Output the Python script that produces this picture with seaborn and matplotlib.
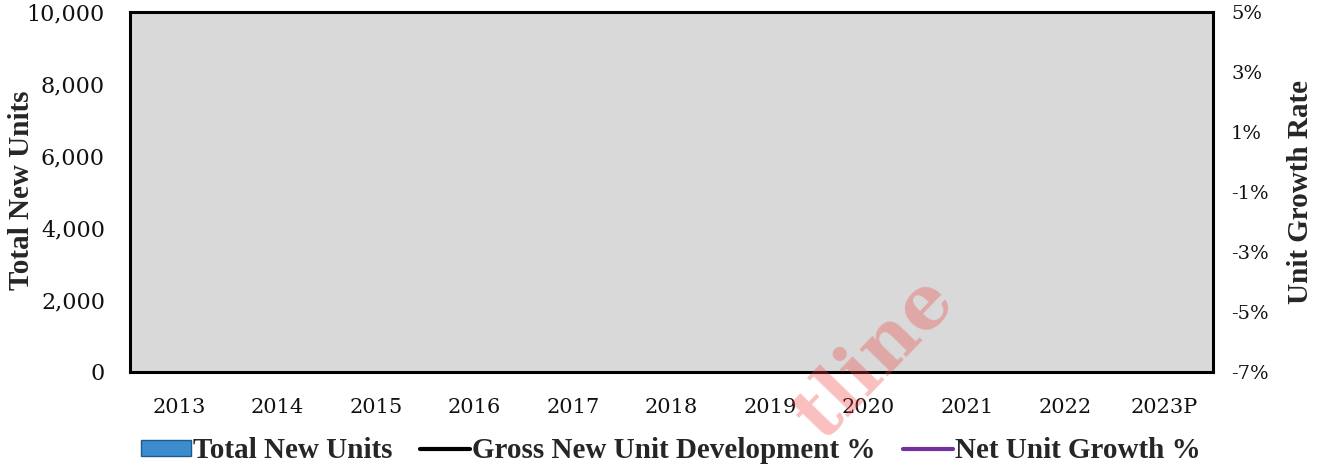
import numpy as np
import pandas as pd
import matplotlib
matplotlib.use("Agg")
import matplotlib.pyplot as plt
from matplotlib.patches import Patch
from matplotlib.lines import Line2D
from matplotlib.ticker import FuncFormatter
import seaborn as sns

# ---- data (no marks visible in the reference: values unknown) ----
years = ["2013", "2014", "2015", "2016", "2017", "2018", "2019", "2020", "2021", "2022", "2023P"]
total_new_units = [np.nan] * len(years)
gross_new_unit_dev = [np.nan] * len(years)
net_unit_growth = [np.nan] * len(years)

left_ticks = [0, 2000, 4000, 6000, 8000, 10000]
right_ticks = [-7, -5, -3, -1, 1, 3, 5]

sns.set_theme(style="white")
plt.rcParams["font.family"] = ["DejaVu Serif"]

BOLD = {"family": ["Liberation Serif", "DejaVu Serif"], "weight": "bold", "size": 21}

fig = plt.figure(figsize=(13.18, 4.68), dpi=100)
ax = fig.add_axes([130 / 1318, 1 - 372 / 468, 1083 / 1318, 360 / 468])
ax.set_facecolor("#D9D9D9")

df = pd.DataFrame({"year": years, "units": total_new_units,
                   "gross": gross_new_unit_dev, "net": net_unit_growth})
df["pos"] = np.arange(len(years))

sns.barplot(data=df, x="pos", y="units", color="#3C8DD0", ax=ax, width=0.6)
ax.set_xlim(-0.5, len(years) - 0.5)
ax.set_xticks(range(len(years)))
ax.set_xticklabels(years)
ax.set_ylim(0, 10000)
ax.set_yticks(left_ticks)
ax.yaxis.set_major_formatter(FuncFormatter(lambda v, p: f"{int(v):,}"))
ax.set_xlabel("")
ax.set_ylabel("Total New Units", fontdict=BOLD)
ax.yaxis.set_label_coords(-0.0877, 0.505)
ax.tick_params(axis="x", length=0, pad=19, labelsize=15, labelcolor="#111111")
ax.tick_params(axis="y", length=0, pad=18, labelsize=16, labelcolor="#111111")
for s in ax.spines.values():
    s.set_visible(True)
    s.set_color("black")
    s.set_linewidth(2.2)

ax2 = ax.twinx()
sns.lineplot(data=df, x="pos", y="gross", color="black", lw=2.5, ax=ax2)
sns.lineplot(data=df, x="pos", y="net", color="#7030A0", lw=2.5, ax=ax2)
ax2.set_ylim(-7, 5)
ax2.set_yticks(right_ticks)
ax2.yaxis.set_major_formatter(FuncFormatter(lambda v, p: f"{int(v)}%"))
ax2.set_ylabel("Unit Growth Rate", fontdict=BOLD)
ax2.yaxis.set_label_coords(1.068, 0.50)
ax2.tick_params(axis="y", length=0, pad=13, labelsize=14, labelcolor="#111111")
ax2.set_xlim(-0.5, len(years) - 0.5)
for s in ax2.spines.values():
    s.set_visible(False)

handles = [
    Patch(facecolor="#3C8DD0", edgecolor="#1F5A8C", label="Total New Units"),
    Line2D([0], [0], color="black", lw=3, label="Gross New Unit Development %"),
    Line2D([0], [0], color="#7030A0", lw=3, label="Net Unit Growth %"),
]
fig.legend(handles=handles, loc="center", bbox_to_anchor=(671 / 1318, 1 - 451 / 468),
           ncol=3, frameon=False, prop={"family": ["Liberation Serif"], "size": 21, "weight": "bold"},
           handlelength=1.7, handletextpad=0.08, columnspacing=0.95, handleheight=0.45)

fig.text(875 / 1318, 1 - 358 / 468, "tline", fontsize=54, fontweight="bold",
         family=["DejaVu Serif"], color="#F04040", alpha=0.33, rotation=46,
         ha="center", va="center")

fig.savefig("out.png", dpi=100)
